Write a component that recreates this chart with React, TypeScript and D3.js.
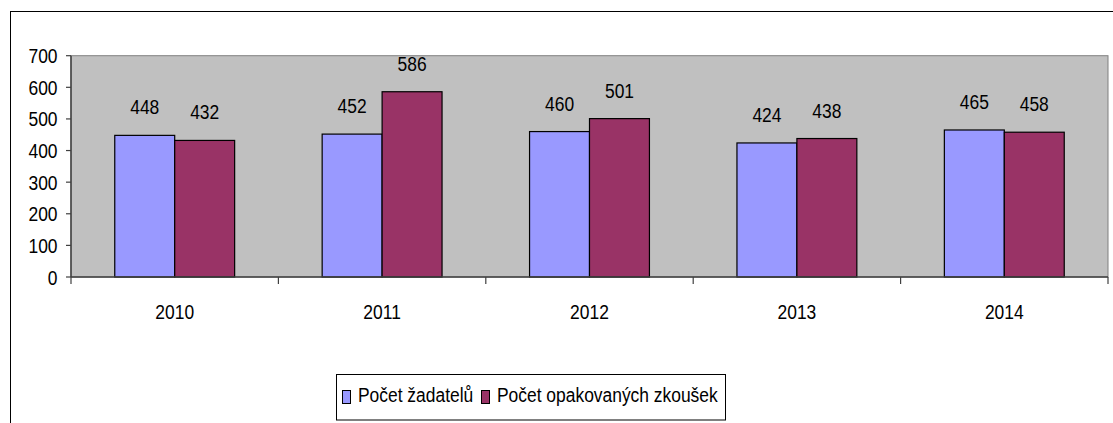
import React from "react";
import * as d3 from "d3";

const years = ["2010", "2011", "2012", "2013", "2014"];
const zadatelu = [448, 452, 460, 424, 465];
const opakovanych = [432, 586, 501, 438, 458];
const seriesNames = ["Počet žadatelů", "Počet opakovaných zkoušek"];
const yTicks = [0, 100, 200, 300, 400, 500, 600, 700];

const W = 1113;
const H = 423;
const colors = ["#9999FF", "#993366"];
const FONT = "'Liberation Sans', Arial, sans-serif";
const SX = 0.83;
const FS = 21;

function CText({ x, y, anchor, children }: { x: number; y: number; anchor: string; children: React.ReactNode }) {
  return (
    <text
      transform={`translate(${x},${y}) scale(${SX},1)`}
      textAnchor={anchor}
      fontFamily={FONT}
      fontSize={FS}
      fill="#000"
    >
      {children}
    </text>
  );
}

export default function App() {
  const left = 71;
  const right = 1108;
  const top = 55.7;
  const bottom = 277;

  const x0 = d3.scaleBand<string>().domain(years).range([left, right]).paddingInner(0).paddingOuter(0);
  const y = d3.scaleLinear().domain([0, 700]).range([bottom, top]);
  const catW = x0.bandwidth();
  const barW = catW / 3.46;

  const series = [zadatelu, opakovanych];

  return (
    <svg width={W} height={H} style={{ position: "absolute", left: 0, top: 0, background: "#fff" }}>
      {/* outer frame */}
      <rect x={10.5} y={11.5} width={W + 10} height={H + 10} fill="none" stroke="#000" strokeWidth={1} />
      {/* plot area */}
      <rect x={left} y={top} width={right - left} height={bottom - top} fill="#C0C0C0" stroke="#808080" strokeWidth={1} />
      {/* bars */}
      {years.map((yr, i) => {
        const cx = (x0(yr) as number) + catW / 2;
        return series.map((s, k) => {
          const bx = cx - barW + k * barW;
          const by = y(s[i]);
          return (
            <g key={yr + k}>
              <rect x={bx} y={by} width={barW} height={bottom - by} fill={colors[k]} stroke="#000" strokeWidth={1.2} />
              <CText x={bx + barW / 2} y={by - 21} anchor="middle">
                {s[i]}
              </CText>
            </g>
          );
        });
      })}
      {/* y axis */}
      <line x1={left} x2={left} y1={top} y2={bottom} stroke="#404040" strokeWidth={1.5} />
      {yTicks.map((t) => (
        <g key={t}>
          <line x1={left - 5} x2={left} y1={y(t)} y2={y(t)} stroke="#404040" strokeWidth={1.2} />
          <CText x={57.5} y={y(t) + 7.5} anchor="end">
            {t}
          </CText>
        </g>
      ))}
      {/* x axis */}
      <line x1={left} x2={right} y1={bottom} y2={bottom} stroke="#404040" strokeWidth={1.5} />
      {[...years.map((yr) => x0(yr) as number), right].map((xx, i) => (
        <line key={i} x1={xx} x2={xx} y1={bottom} y2={bottom + 7} stroke="#404040" strokeWidth={1.2} />
      ))}
      {years.map((yr) => (
        <CText key={yr} x={(x0(yr) as number) + catW / 2} y={318.5} anchor="middle">
          {yr}
        </CText>
      ))}
      {/* legend */}
      <rect x={336.5} y={374.5} width={389} height={45.5} fill="#fff" stroke="#000" strokeWidth={1} />
      <rect x={342.5} y={390.5} width={8} height={13} fill={colors[0]} stroke="#000" strokeWidth={1} />
      <CText x={358} y={402} anchor="start">
        {seriesNames[0]}
      </CText>
      <rect x={481.5} y={390.5} width={8} height={13} fill={colors[1]} stroke="#000" strokeWidth={1} />
      <CText x={497} y={402} anchor="start">
        {seriesNames[1]}
      </CText>
    </svg>
  );
}
